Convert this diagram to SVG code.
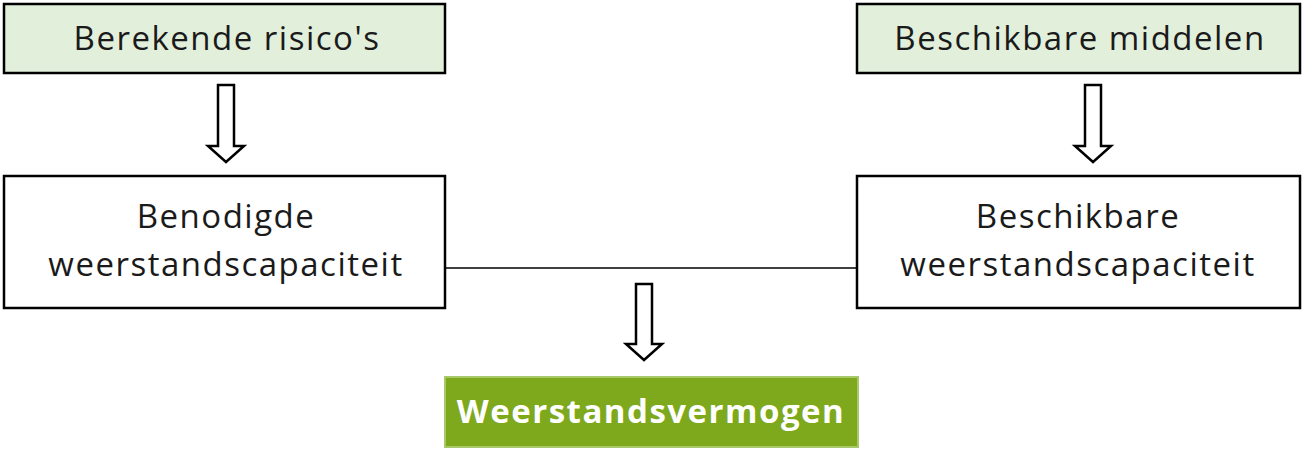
<svg xmlns="http://www.w3.org/2000/svg" width="1304" height="449" viewBox="0 0 1304 449">
<defs>
<style>
.box{stroke:#000;stroke-width:2.5;}
.top{fill:#e2efda;}
.mid{fill:#ffffff;}
.lbl{font-family:"Open Sans","Liberation Sans",sans-serif;font-size:33px;fill:#1a1a1a;text-anchor:middle;letter-spacing:1.5px;}
.res{font-family:"Open Sans","Liberation Sans",sans-serif;font-size:33px;font-weight:bold;fill:#ffffff;text-anchor:middle;letter-spacing:1.5px;}
.arrow{fill:#ffffff;stroke:#000;stroke-width:2.5;stroke-linejoin:miter;}
.conn{fill:none;stroke:#000;stroke-width:1.5;}
</style>
</defs>
<rect width="1304" height="449" fill="#ffffff"/>
<g id="berekende-risicos">
<rect class="box top" x="4" y="4" width="441" height="69"/>
<text class="lbl" x="227" y="50">Berekende risico's</text>
</g>
<g id="beschikbare-middelen">
<rect class="box top" x="857" y="4" width="443" height="69"/>
<text class="lbl" x="1080" y="50">Beschikbare middelen</text>
</g>
<g id="benodigde-capaciteit">
<rect class="box mid" x="4" y="176" width="441" height="132"/>
<text class="lbl" x="226" y="228">Benodigde</text>
<text class="lbl" x="226" y="276">weerstandscapaciteit</text>
</g>
<g id="beschikbare-capaciteit">
<rect class="box mid" x="857" y="176" width="443" height="132"/>
<text class="lbl" x="1078" y="228">Beschikbare</text>
<text class="lbl" x="1078" y="276">weerstandscapaciteit</text>
</g>
<g id="weerstandsvermogen">
<rect x="445" y="377" width="413" height="70" fill="#7ea91c" stroke="#a8c86a" stroke-width="2"/>
<text class="res" x="651" y="423">Weerstandsvermogen</text>
</g>
<g id="connectors">
<line class="conn" x1="445" y1="268" x2="857" y2="268"/>
<path class="arrow" d="M218,85 H234 V146 H244 L226,162 L208,146 H218 Z"/>
<path class="arrow" d="M1085,85 H1101 V146 H1111 L1093,162 L1075,146 H1085 Z"/>
<path class="arrow" d="M636,284 H652 V344 H662 L644,360 L626,344 H636 Z"/>
</g>
</svg>
